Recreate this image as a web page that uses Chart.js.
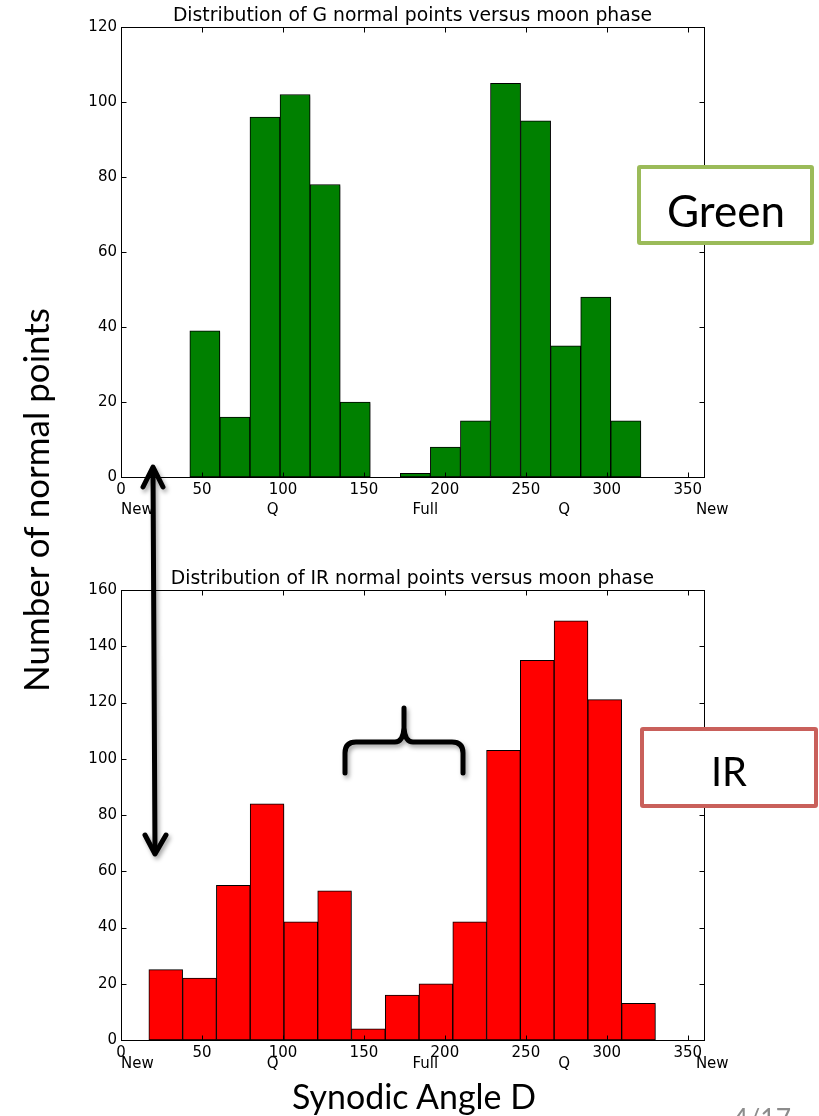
<!DOCTYPE html>
<html><head><meta charset="utf-8">
<script src="https://cdn.jsdelivr.net/npm/chart.js@4.4.1/dist/chart.umd.min.js"></script>
<style>
html,body{margin:0;padding:0;background:#fff;}
body{width:819px;height:1116px;position:relative;overflow:hidden;}
canvas{position:absolute;left:0;}
.txt{position:absolute;font-family:Lato,'Open Sans',sans-serif;color:#000;white-space:nowrap;line-height:1;transform:translate(-50%,-50%);}
.box{position:absolute;background:#fff;box-sizing:border-box;border-radius:3px;}
</style></head><body>
<canvas id="cG" width="819" height="530" style="top:0"></canvas>
<canvas id="cIR" width="819" height="556" style="top:560px"></canvas>

<div class="box" style="left:637px;top:165px;width:177px;height:80px;border:4px solid #9BBB59"></div>
<div class="box" style="left:640px;top:727px;width:178px;height:81px;border:4px solid #C9605B"></div>

<svg style="position:absolute;left:0;top:0;filter:drop-shadow(2px 3px 2px rgba(0,0,0,0.35))" width="819" height="1116">
<g stroke="#000" stroke-width="5" fill="none" stroke-linecap="round" stroke-linejoin="round">
<path d="M153 469 L155 851"/>
<path d="M143 487 L153 467 L163 487"/>
<path d="M145 835 L155 854 L166 835"/>
<path d="M345 773 L345 753 Q345 742 356 742 L395 742 Q403 742 404 728 L404 708 M404 728 Q405 742 413 742 L452 742 Q463 742 463 753 L463 773"/>
</g></svg>

<div class="txt fit" data-w="118" style="left:726px;top:210px">Green</div>
<div class="txt fit" data-w="36" style="left:729px;top:771px">IR</div>
<div class="txt fit" data-w="384" id="ylab" style="left:35px;top:500px">Number of normal points</div>
<div class="txt fit" data-w="244" style="left:414px;top:1097px">Synodic Angle D</div>
<div class="txt fit" data-w="58" style="left:762px;top:1118px;color:#8c8c8c">4/17</div>

<script>
// ---- data ----
const gCounts  = [39, 16, 96, 102, 78, 20, 0, 1, 8, 15, 105, 95, 35, 48, 15];
const gBinRange = [42.5, 321];
const irCounts = [25, 22, 55, 84, 42, 53, 4, 16, 20, 42, 103, 135, 149, 121, 13];
const irBinRange = [17.2, 330];
const xTicks = [0, 50, 100, 150, 200, 250, 300, 350];
const gYTicks = [0, 20, 40, 60, 80, 100, 120];
const irYTicks = [0, 20, 40, 60, 80, 100, 120, 140, 160];
const phaseLabels = ['New', 'Q', 'Full', 'Q', 'New'];
const phaseAngles = [0, 90, 180, 270, 355];
const gTitle = 'Distribution of G normal points versus moon phase';
const irTitle = 'Distribution of IR normal points versus moon phase';

// fit slide texts
document.querySelectorAll('.fit').forEach(el => {
  el.style.fontSize = '100px';
  const w = el.getBoundingClientRect().width;
  el.style.fontSize = (100 * (+el.dataset.w) / w).toFixed(2) + 'px';
});
document.getElementById('ylab').style.transform = 'translate(-50%,-50%) rotate(-90deg)';

const framePlugin = {
  id: 'frame',
  beforeDatasetsDraw(chart) {
    const ctx = chart.ctx;
    ctx.save();
    ctx.shadowColor = 'rgba(0,0,0,0.25)';
    ctx.shadowBlur = 2;
    ctx.shadowOffsetX = 1.5;
    ctx.shadowOffsetY = 1.5;
  },
  afterDatasetsDraw(chart) {
    chart.ctx.restore();
  },
  afterDraw(chart) {
    const { ctx, chartArea: a, scales: { x, y } } = chart;
    const opts = chart.options.plugins.frame;
    ctx.save();
    ctx.strokeStyle = '#000';
    ctx.lineWidth = 1;
    const L = Math.round(a.left) + 0.5, R = Math.round(a.right) + 0.5;
    const T = Math.round(a.top) + 0.5, B = Math.round(a.bottom) + 0.5;
    ctx.strokeRect(L, T, R - L, B - T);
    ctx.beginPath();
    const k = 5;
    x.ticks.forEach(t => {
      const px = Math.round(x.getPixelForValue(t.value)) + 0.5;
      ctx.moveTo(px, B); ctx.lineTo(px, B - k);
      ctx.moveTo(px, T); ctx.lineTo(px, T + k);
    });
    y.ticks.forEach(t => {
      const py = Math.round(y.getPixelForValue(t.value)) + 0.5;
      ctx.moveTo(L, py); ctx.lineTo(L + k, py);
      ctx.moveTo(R, py); ctx.lineTo(R - k, py);
    });
    ctx.stroke();
    ctx.fillStyle = '#000';
    ctx.font = '15px "DejaVu Sans"';
    ctx.textAlign = 'left';
    ctx.textBaseline = 'middle';
    phaseLabels.forEach((s, i) => ctx.fillText(s, x.getPixelForValue(phaseAngles[i]), a.bottom + opts.phaseOffset));
    // title centred over the plot area
    ctx.font = '18.8px "DejaVu Sans"';
    ctx.textAlign = 'center';
    ctx.textBaseline = 'alphabetic';
    ctx.fillText(opts.title, (a.left + a.right) / 2, a.top - opts.titleGap);
    ctx.restore();
  }
};

function makeChart(id, counts, range, color, yTicks, title, xH, padTop, phaseOff, titleGap) {
  const n = counts.length, w = (range[1] - range[0]) / n;
  const data = counts.map((c, i) => ({ x: range[0] + (i + 0.5) * w, y: c }));
  return new Chart(document.getElementById(id), {
    type: 'bar',
    data: { datasets: [{ data, backgroundColor: color, borderColor: '#000', borderWidth: 1,
      borderSkipped: false, barPercentage: 1, categoryPercentage: 1 }] },
    options: {
      responsive: false, animation: false, devicePixelRatio: 1,
      layout: { padding: { left: 0, right: 115, top: padTop, bottom: 0 } },
      plugins: {
        legend: { display: false }, tooltip: { enabled: false }, title: { display: false },
        frame: { phaseOffset: phaseOff, title, titleGap }
      },
      scales: {
        x: { type: 'linear', min: 0, max: 360, offset: false,
          afterBuildTicks: s => { s.ticks = xTicks.map(v => ({ value: v })); },
          afterFit: s => { s.height = xH; },
          grid: { display: false, drawTicks: false }, border: { display: false },
          ticks: { color: '#000', font: { family: 'DejaVu Sans', size: 15 }, padding: 4, maxRotation: 0, autoSkip: false } },
        y: { type: 'linear', min: yTicks[0], max: yTicks[yTicks.length - 1],
          afterBuildTicks: s => { s.ticks = yTicks.map(v => ({ value: v })); },
          afterFit: s => { s.width = 121; },
          grid: { display: false, drawTicks: false }, border: { display: false },
          ticks: { color: '#000', font: { family: 'DejaVu Sans', size: 15 }, padding: 4 } }
      }
    },
    plugins: [framePlugin]
  });
}

makeChart('cG', gCounts, gBinRange, '#008000', gYTicks, gTitle, 53, 27, 33, 6);
makeChart('cIR', irCounts, irBinRange, '#FF0000', irYTicks, irTitle, 76, 30, 24, 6);
</script>
</body></html>
